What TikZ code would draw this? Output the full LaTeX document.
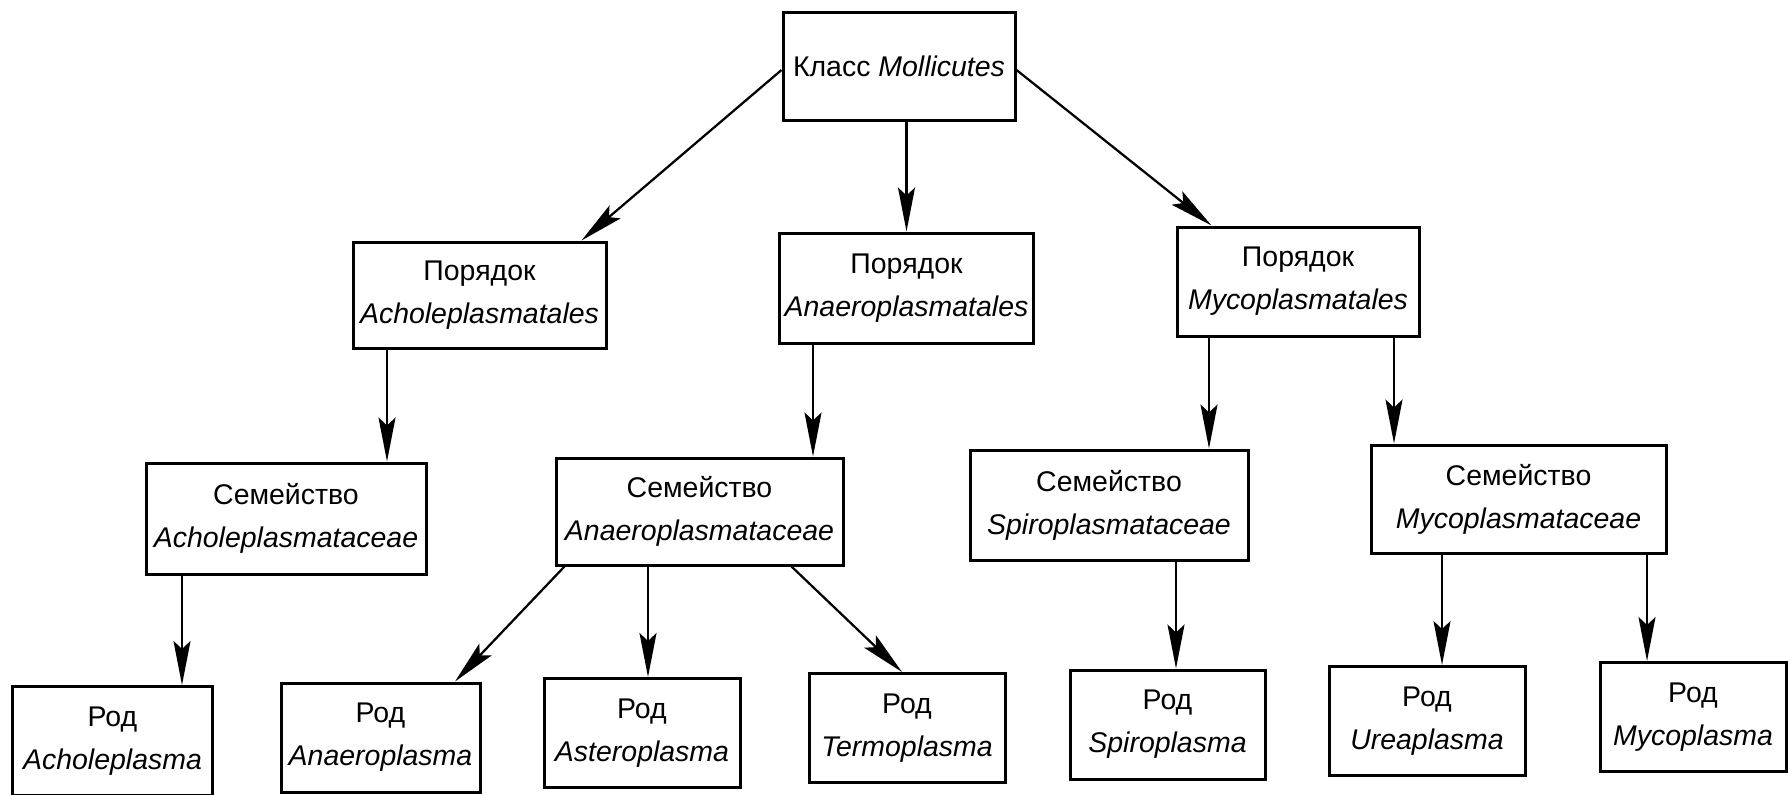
\documentclass[tikz,border=0pt]{standalone}
\usepackage{fontspec}
\setmainfont{Liberation Sans}
\usetikzlibrary{arrows.meta}

\begin{document}
\begin{tikzpicture}[x=0.2mm, y=-0.2mm, >={Stealth[length=8.8mm, width=3.4mm, inset=1.6mm]}]
  \tikzstyle{box} = [draw, rectangle, line width=0.6mm, minimum height=21.8mm, inner sep=1mm, align=center, font=\fontsize{16.2}{24.5}\selectfont]
  \tikzstyle{link} = [->, line width=0.45mm]
  \useasboundingbox (0,0) rectangle (1788,795);
  % class
  \node[box, minimum width=46.4mm, minimum height=21.4mm] (cls) at (899,66.5) {Класс \textit{Mollicutes}};
  % orders
  \node[box, minimum width=50.6mm, minimum height=21.2mm] (ordAch) at (479.5,295) {Порядок\\\textit{Acholeplasmatales}};
  \node[box, minimum width=50.2mm, minimum height=22mm] (ordAna) at (906.5,288) {Порядок\\\textit{Anaeroplasmatales}};
  \node[box, minimum width=48.4mm] (ordMyc) at (1298,281.5) {Порядок\\\textit{Mycoplasmatales}};
  % families
  \node[box, minimum width=56mm, minimum height=22.2mm] (famAch) at (286,518.5) {Семейство\\\textit{Acholeplasmataceae}};
  \node[box, minimum width=57.4mm, minimum height=21.4mm] (famAna) at (699.5,511.5) {Семейство\\\textit{Anaeroplasmataceae}};
  \node[box, minimum width=55.6mm, minimum height=22mm] (famSpi) at (1109,505) {Семейство\\\textit{Spiroplasmataceae}};
  \node[box, minimum width=59mm, minimum height=21.6mm] (famMyc) at (1518.5,499) {Семейство\\\textit{Mycoplasmataceae}};
  % genera
  \node[box, minimum width=39.8mm] (genAch) at (112.5,741) {Род\\\textit{Acholeplasma}};
  \node[box, minimum width=39.8mm] (genAna) at (380.5,737.5) {Род\\\textit{Anaeroplasma}};
  \node[box, minimum width=39.2mm] (genAst) at (642,733) {Род\\\textit{Asteroplasma}};
  \node[box, minimum width=39.2mm] (genTer) at (907,728) {Род\\\textit{Termoplasma}};
  \node[box, minimum width=39mm] (genSpi) at (1167.5,724.5) {Род\\\textit{Spiroplasma}};
  \node[box, minimum width=39.2mm] (genUre) at (1427,721) {Род\\\textit{Ureaplasma}};
  \node[box, minimum width=37.2mm] (genMyc) at (1693,717) {Род\\\textit{Mycoplasma}};

  \draw[link] ([yshift=-0.7mm]cls.west) -- ([xshift=-5.2mm]ordAch.north east);
  \draw[link] (ordAna.north |- cls.south) -- (ordAna.north);
  \draw[link] ([yshift=-0.7mm]cls.east) -- ([xshift=7.2mm]ordMyc.north west);

  \draw[link] ([xshift=-18.5mm]ordAch.south) -- ([xshift=-18.5mm]ordAch.south |- famAch.north);
  \draw[link] ([xshift=-18.7mm]ordAna.south) -- ([xshift=-18.7mm]ordAna.south |- famAna.north);
  \draw[link] ([xshift=-17.8mm]ordMyc.south) -- ([xshift=-17.8mm]ordMyc.south |- famSpi.north);
  \draw[link] ([xshift=19.2mm]ordMyc.south) -- ([xshift=19.2mm]ordMyc.south |- famMyc.north);

  \draw[link] ([xshift=-20.8mm]famAch.south) -- ([xshift=-20.8mm]famAch.south |- genAch.north);
  \draw[link] ([xshift=2mm]famAna.south west) -- ([xshift=-5.3mm]genAna.north east);
  \draw[link] ([xshift=-10.3mm]famAna.south) -- ([xshift=-10.3mm]famAna.south |- genAst.north);
  \draw[link] ([xshift=-10.6mm]famAna.south east) -- ([xshift=-1mm]genTer.north);
  \draw[link] ([xshift=13.4mm]famSpi.south) -- ([xshift=13.4mm]famSpi.south |- genSpi.north);
  \draw[link] ([xshift=-15.3mm]famMyc.south) -- ([xshift=-15.3mm]famMyc.south |- genUre.north);
  \draw[link] ([xshift=25.7mm]famMyc.south) -- ([xshift=25.7mm]famMyc.south |- genMyc.north);
\end{tikzpicture}
\end{document}
